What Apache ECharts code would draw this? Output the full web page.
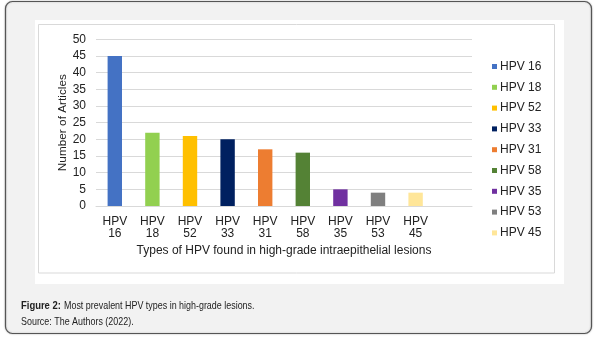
<!DOCTYPE html>
<html>
<head>
<meta charset="utf-8">
<script src="https://cdn.jsdelivr.net/npm/echarts@6/dist/echarts.min.js"></script>
<style>
html,body{margin:0;padding:0;background:#fff;}
#c{width:597px;height:342px;}
</style>
</head>
<body>
<div id="c"></div>
<script>
const categories = ['HPV 16','HPV 18','HPV 52','HPV 33','HPV 31','HPV 58','HPV 35','HPV 53','HPV 45',''];
const values = [45, 22, 21, 20, 17, 16, 5, 4, 4];
const colors = ['#4472C4','#92D050','#FFC000','#002060','#ED7D31','#548235','#7030A0','#7F7F7F','#FFE699'];
const yTicks = [0,5,10,15,20,25,30,35,40,45,50];
const yTitle = 'Number of Articles';
const xTitle = 'Types of HPV found in high-grade intraepithelial lesions';
const captionBold = 'Figure 2:';
const captionText = 'Most prevalent HPV types in high-grade lesions.';
const sourceText = 'Source: The Authors (2022).';

const FONT = '"Liberation Sans", Arial, sans-serif';
const chart = echarts.init(document.getElementById('c'), null, {renderer:'canvas'});

const series = values.map((v, i) => ({
  name: categories[i],
  type: 'bar',
  barWidth: 14.4,
  barGap: '-100%',
  itemStyle: {color: colors[i]},
  data: categories.map((c, j) => j === i ? v : null),
  silent: true
}));

chart.setOption({
  animation: false,
  textStyle: {fontFamily: FONT},
  graphic: [
    {type:'rect', z:-10, shape:{x:5.5, y:1.5, width:586, height:332, r:7},
     style:{fill:'#f2f2f2', stroke:'#555', lineWidth:1.2, shadowBlur:2, shadowColor:'rgba(0,0,0,0.25)'}},
    {type:'rect', z:-9, shape:{x:35, y:20, width:529, height:264},
     style:{fill:'#ffffff'}},
    {type:'rect', z:-8, shape:{x:38.5, y:24.5, width:516, height:248.5},
     style:{fill:'#ffffff', stroke:'#d9d9d9', lineWidth:1}},
    {type:'text', x:21, y:301, scaleX:0.9, z:5,
     style:{text:captionBold, font:'bold 10.5px ' + FONT, fill:'#222'}},
    {type:'text', x:64, y:301, scaleX:0.85, z:5,
     style:{text:captionText, font:'10.5px ' + FONT, fill:'#222'}},
    {type:'text', x:21, y:316.5, scaleX:0.85, z:5,
     style:{text:sourceText, font:'10.5px ' + FONT, fill:'#222'}}
  ],
  grid: {left:96, right:125, top:39.3, bottom:136, containLabel:false},
  legend: {
    orient:'vertical', left:492, top:59.5, padding:0, itemWidth:5, itemHeight:5, itemGap:6.8,
    icon:'rect',
    data: categories.slice(0, values.length),
    textStyle:{fontSize:12, color:'#222', lineHeight:14, padding:[0,0,0,-2], fontFamily: FONT},
    selectedMode:false
  },
  xAxis: {
    type:'category', data:categories,
    name: xTitle, nameLocation:'middle', nameGap:38.5,
    nameTextStyle:{fontSize:12, color:'#222', fontFamily: FONT},
    axisLine:{lineStyle:{color:'#d9d9d9'}},
    axisTick:{show:false},
    axisLabel:{fontSize:12, color:'#222', lineHeight:12.5, margin:9, interval:0,
      formatter: v => v.replace(' ', '\n')}
  },
  yAxis: {
    type:'value', min:yTicks[0], max:yTicks[yTicks.length-1], interval:5,
    name: yTitle, nameLocation:'middle', nameGap:27, nameMoveOverlap:false,
    nameTextStyle:{fontSize:11.8, color:'#222', fontFamily: FONT},
    axisLine:{show:false}, axisTick:{show:false},
    axisLabel:{fontSize:12, color:'#222', margin:10},
    splitLine:{lineStyle:{color:'#d9d9d9'}}
  },
  series: series
});
</script>
</body>
</html>
